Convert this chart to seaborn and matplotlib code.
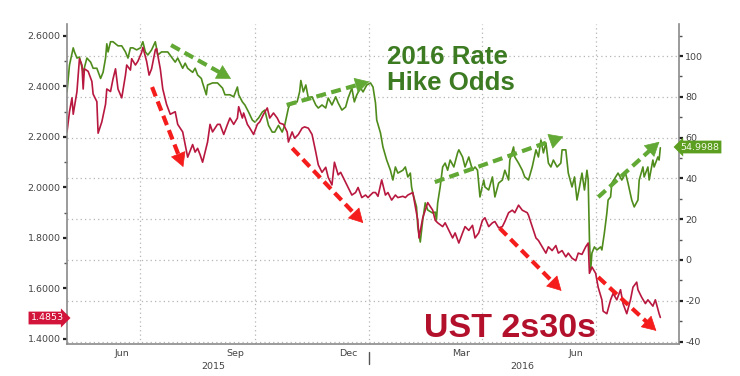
import numpy as np
import pandas as pd
import matplotlib
matplotlib.use("Agg")
import matplotlib.pyplot as plt
import matplotlib.dates as mdates
import matplotlib.transforms as mtransforms
import seaborn as sns

# ---------------- data ----------------
start_date = "2015-05-03"

# UST 2s30s spread (left axis) : days since start_date, value
ust_days = [0, 2, 4, 5, 8, 10, 12, 13, 14, 17, 20, 21, 24, 25, 28, 31, 32, 35, 37, 39,
            41, 44, 47, 48, 51, 52, 55, 57, 60, 61, 64, 66, 68, 71, 72, 75, 77, 80, 83, 87,
            89, 93, 95, 97, 101, 103, 105, 107, 109, 113, 115, 117, 121,
            123, 126, 129, 131, 134, 137, 138, 141, 142, 145, 147, 150, 153, 155, 158, 161,
            163, 166, 169, 171, 174, 177, 178, 181, 183, 186, 189, 191, 194, 197, 200, 202,
            205, 208, 210, 213, 215, 218, 220, 224, 226, 229, 232, 234, 237, 240, 242, 246,
            248, 250, 253, 256, 258, 261, 264, 266, 270, 272, 274, 278, 280, 282, 283, 286,
            288, 290, 294, 296, 298, 302, 304, 307, 310, 312, 315, 318, 320, 323, 326, 328,
            331, 334, 336, 339, 342, 344, 347, 350, 352, 355, 358, 360, 363, 366, 370,
            371, 374, 377, 379, 382, 385, 387, 390, 393, 395, 398, 401, 403, 406, 409, 411,
            414, 417, 419, 420, 422, 425, 427, 430, 431, 434, 437, 439, 442, 445, 447, 450,
            453, 455, 458, 459, 462, 465, 467, 471, 473, 476, 477]
ust_values = [2.22, 2.30, 2.355, 2.29, 2.38, 2.51, 2.485, 2.39, 2.47, 2.46, 2.42, 2.37, 2.34,
              2.215, 2.26, 2.33, 2.39, 2.38, 2.43, 2.47, 2.39, 2.355, 2.445, 2.485, 2.465,
              2.51, 2.485, 2.50, 2.535, 2.555, 2.50, 2.445, 2.47, 2.545, 2.55, 2.47, 2.39,
              2.33, 2.29, 2.30, 2.25, 2.22, 2.17, 2.12, 2.17, 2.14, 2.155, 2.13, 2.10, 2.18,
              2.25, 2.22, 2.25,
              2.25, 2.21, 2.25, 2.275, 2.25, 2.275, 2.32, 2.275, 2.295, 2.25, 2.235, 2.21,
              2.25, 2.26, 2.29, 2.315, 2.275, 2.295, 2.275, 2.255, 2.25, 2.22, 2.18, 2.22,
              2.195, 2.21, 2.235, 2.24, 2.235, 2.21, 2.14, 2.09, 2.06, 2.08, 2.04, 2.01, 2.10,
              2.05, 2.06, 2.02, 2.00, 1.97, 1.98, 2.00, 1.96, 1.97, 1.96, 1.98,
              1.98, 1.965, 2.03, 1.97, 1.98, 1.95, 1.97, 1.96, 1.965, 1.96, 1.97, 1.98, 1.925,
              1.87, 1.80, 1.88, 1.91, 1.94, 1.91, 1.87, 1.86, 1.845, 1.86, 1.83, 1.80, 1.82,
              1.78, 1.82, 1.845, 1.83, 1.85, 1.80, 1.82, 1.87, 1.88, 1.845, 1.86, 1.865, 1.84,
              1.845, 1.865, 1.90, 1.91, 1.90, 1.93, 1.91, 1.90,
              1.89, 1.845, 1.80, 1.79, 1.765, 1.74, 1.765, 1.75, 1.77, 1.74, 1.75, 1.725,
              1.74, 1.72, 1.71, 1.74, 1.735, 1.765, 1.78, 1.66, 1.685, 1.66, 1.605, 1.555,
              1.51, 1.50, 1.555, 1.58, 1.555, 1.595, 1.54, 1.50, 1.555, 1.605, 1.625, 1.595,
              1.565, 1.54, 1.555, 1.53, 1.555, 1.50, 1.4853]

# 2016 rate hike odds (right axis)
odds_days = [0, 2, 5, 6, 8, 10, 13, 16, 19, 21, 24, 27, 29, 31, 32, 33, 35, 37, 41, 44,
             47, 49, 51, 53, 56, 59, 61, 63, 65, 68, 71, 73, 76, 79, 81, 84, 87, 89, 93, 95,
             97, 101, 103, 105, 108, 109, 112, 113, 117, 121,
             125, 127, 131, 134, 137, 138, 141, 143, 146, 149, 151, 154, 157, 159, 162, 165,
             167, 170, 173, 175, 178, 179, 182, 185, 187, 188, 190, 192, 194, 197, 200, 202,
             205, 208, 210, 213, 216, 218, 221, 224, 226, 229, 231, 233, 236, 238, 241, 244,
             246, 248, 249, 252, 254, 257, 260, 262, 264, 266, 270, 272, 274, 276, 277, 278,
             281, 282, 284, 286, 288, 290, 294, 296, 297, 298, 300, 302, 304, 306, 308, 311,
             314, 315, 318, 320, 323, 326, 328, 330, 332, 335, 336, 339, 342, 344, 347, 350,
             352, 355, 356, 359, 360, 363, 366,
             368, 371, 374, 377, 379, 381, 383, 385, 387, 389, 391, 394, 397, 398, 401, 403,
             406, 408, 410, 412, 414, 416, 418, 419, 420, 421, 422, 424, 426, 429, 430, 432,
             434, 435, 437, 438, 441, 443, 446, 449, 451, 454, 456, 459, 460, 463, 464, 467,
             468, 471, 472, 475, 476, 477]
odds_values = [82.4, 95.6, 104, 102, 99, 99.5, 92, 99, 97, 94, 94, 89, 92, 99, 106, 102, 107,
               107, 105, 105, 102, 99, 104, 104, 103, 104, 107, 102, 100.5, 103, 107, 100.5,
               102, 102, 102, 99.5, 97, 99, 94, 96.5, 94, 92, 94, 90.7, 89, 86.8, 81, 85.8,
               86.8, 86.8,
               84.3, 81, 81, 80, 84.8, 81, 77.5, 76, 72.5, 68.6, 67.6, 69.6, 72.5, 73.5, 66,
               62.7, 62.7, 66, 62.7, 66, 74.5, 76, 77.5, 77.5, 82.4, 88, 82.4, 85.8, 79.4, 80,
               76, 74.5, 76, 74.5, 79.4, 76, 80, 77, 73.5, 75, 79.4, 84.3, 77.5, 81, 84.3,
               82.4, 85.8, 86.8,
               84.8, 77, 68.6, 62.3, 55.4, 49, 44, 39.2, 45.6, 42.6, 44, 45.6, 40.7, 42.6,
               35.8, 32.8, 26, 16.2, 8.8, 19.6, 28, 24.5, 23, 23.5, 19.6, 28, 35.8, 45.6, 47.5,
               44, 49, 45.6, 52.5, 54, 50.5, 45.6, 50.5, 44, 45.6, 44, 30.9, 39.2, 35.8, 34.3,
               40.7, 30.9, 37.7, 39.2, 44, 39.2, 49, 55.4, 50.5, 47.5, 44,
               40.7, 39.2, 45.6, 54, 50.5, 58.8, 52.5, 57.4, 47.5, 45.6, 49, 45.6, 47.5, 54,
               54, 42.6, 35.8, 40.7, 29.4, 35.8, 42.6, 34.3, 44, 39.2, 9.8, -4.9, 3.4, 6.4,
               4.9, 6.4, 4.9, 13.2, 23, 29.4, 30.9, 37.7, 40.7, 42.6, 39.2, 42.6, 37.7, 29.4,
               26, 29.4, 39.2, 45.6, 40.7, 45.6, 39.2, 49, 45.6, 50.5, 49, 54.9988]

left_ticks = [1.4, 1.6, 1.8, 2.0, 2.2, 2.4, 2.6]
right_ticks = [-40, -20, 0, 20, 40, 60, 80, 100]
month_labels = ["Jun", "Sep", "Dec", "Mar", "Jun"]
month_label_dates = ["2015-06-16", "2015-09-15", "2015-12-15", "2016-03-15", "2016-06-15"]
quarter_dates = ["2015-07-01", "2015-10-01", "2016-01-01", "2016-04-01", "2016-07-01"]
year_labels = ["2015", "2016"]
year_label_dates = ["2015-08-29", "2016-05-03"]
year_boundary = "2016-01-01"
x_range = ["2015-05-03", "2016-09-06"]

t0 = pd.Timestamp(start_date)
ust = pd.DataFrame({"date": t0 + pd.to_timedelta(ust_days, unit="D"), "value": ust_values})
odds = pd.DataFrame({"date": t0 + pd.to_timedelta(odds_days, unit="D"), "value": odds_values})

# ---------------- styling ----------------
sns.set_style("white")
plt.rcParams["font.family"] = ["DejaVu Sans"]

RED_LINE = "#b8183f"
GREEN_LINE = "#4f8c1c"
RED_TEXT = "#b3102c"
GREEN_TEXT = "#3c7b22"
RED_ARROW = "#f51c1c"
GREEN_ARROW = "#62a834"
TICK_COL = "#444444"
GRID_COL = "#b5b5b5"

AX_W, AX_H = 612, 320
fig = plt.figure(figsize=(7.4, 3.76), dpi=100)
ax = fig.add_axes([67 / 740, 32 / 376, AX_W / 740, AX_H / 376])
ax2 = ax.twinx()

sns.lineplot(data=ust, x="date", y="value", ax=ax, color=RED_LINE, lw=1.2,
             estimator=None, sort=False, legend=False)
sns.lineplot(data=odds, x="date", y="value", ax=ax2, color=GREEN_LINE, lw=1.2,
             estimator=None, sort=False, legend=False)

ax.set_zorder(ax2.get_zorder() + 1)
ax.patch.set_visible(False)

x0, x1 = pd.Timestamp(x_range[0]), pd.Timestamp(x_range[1])
ax.set_xlim(x0, x1)
ax.set_ylim(1.38, 2.6475)
ax2.set_ylim(-41.2, 115.7)

for a in (ax, ax2):
    a.set_xlabel("")
    a.set_ylabel("")
    for s in a.spines.values():
        s.set_visible(False)

ax.spines["left"].set_visible(True)
ax.spines["bottom"].set_visible(True)
ax2.spines["right"].set_visible(True)
for s in (ax.spines["left"], ax.spines["bottom"], ax2.spines["right"]):
    s.set_color("#8a8a8a")
    s.set_linewidth(1.2)

# left axis ticks
ax.set_yticks(left_ticks)
ax.set_yticklabels([f"{v:.4f}" for v in left_ticks])
ax.set_yticks(np.arange(1.5, 2.65, 0.2), minor=True)
ax.tick_params(axis="y", which="major", direction="out", length=3, width=1.6,
               color="#222222", labelsize=6.8, labelcolor=TICK_COL, pad=1.5)
ax.tick_params(axis="y", which="minor", direction="out", length=2, width=1.0,
               color="#555555")

# right axis ticks
ax2.set_yticks(right_ticks)
ax2.set_yticklabels([str(v) for v in right_ticks])
ax2.set_yticks(np.arange(-30, 111, 20), minor=True)
ax2.tick_params(axis="y", which="major", direction="out", length=3, width=1.6,
                color="#222222", labelsize=6.8, labelcolor=TICK_COL, pad=1.5)
ax2.tick_params(axis="y", which="minor", direction="out", length=2, width=1.0,
                color="#555555")

# horizontal grid (follows right axis)
for v in right_ticks:
    ax2.axhline(v, color=GRID_COL, lw=0.9, ls=(0, (1, 2.5)), zorder=0)
# vertical grid at quarter starts
for d in quarter_dates:
    ax.axvline(pd.Timestamp(d), color=GRID_COL, lw=0.9, ls=(0, (1, 2.5)), zorder=0)

# x ticks: month starts (minor), month labels (major, no tick)
ax.xaxis.set_minor_locator(mdates.MonthLocator())
ax.set_xticks([pd.Timestamp(d) for d in month_label_dates])
ax.set_xticklabels(month_labels)
ax.tick_params(axis="x", which="major", length=0, labelsize=6.8, labelcolor=TICK_COL, pad=3.5)
ax.tick_params(axis="x", which="minor", direction="inout", length=4, width=1.0, color="#555555")
ax2.tick_params(axis="x", which="both", length=0)

# year labels and year boundary tick
trans = mtransforms.blended_transform_factory(ax.transData, fig.transFigure)
for lab, d in zip(year_labels, year_label_dates):
    ax.text(pd.Timestamp(d), 1 - 362 / 376, lab, transform=trans, ha="center", va="top",
            fontsize=6.8, color=TICK_COL)
ax.plot([pd.Timestamp(year_boundary)] * 2, [1 - 352 / 376, 1 - 364 / 376], transform=trans,
        color="#555555", lw=1.0, clip_on=False)

# annotation texts
fig.text(387 / 740, 1 - 45 / 376, "2016 Rate\nHike Odds", ha="left", va="top",
         fontsize=18.6, fontweight="bold", color=GREEN_TEXT,
         family=["Liberation Sans", "DejaVu Sans"], linespacing=1.12, zorder=10)
fig.text(424 / 740, 1 - 337 / 376, "UST 2s30s", ha="left", va="baseline",
         fontsize=24.5, fontweight="bold", color=RED_TEXT,
         family=["Liberation Sans", "DejaVu Sans"], zorder=10)

# dashed trend arrows (axes fraction): dashed shaft + solid head
red_arrows = [((0.139, 0.803), (0.190, 0.553)),
              ((0.368, 0.612), (0.484, 0.378)),
              ((0.707, 0.362), (0.808, 0.166)),
              ((0.868, 0.209), (0.963, 0.041))]
green_arrows = [((0.170, 0.934), (0.268, 0.829)),
                ((0.359, 0.747), (0.494, 0.820)),
                ((0.601, 0.506), (0.811, 0.648)),
                ((0.868, 0.459), (0.968, 0.632))]
HEAD_PX = 13.0
for arrows, col in ((red_arrows, RED_ARROW), (green_arrows, GREEN_ARROW)):
    for (s, e) in arrows:
        dx = (e[0] - s[0]) * AX_W
        dy = (e[1] - s[1]) * AX_H
        L = np.hypot(dx, dy)
        base = (e[0] - dx / L * HEAD_PX / AX_W, e[1] - dy / L * HEAD_PX / AX_H)
        ax.plot([s[0], base[0]], [s[1], base[1]], transform=ax.transAxes, color=col,
                lw=3.0, ls=(0, (2.4, 1.3)), solid_capstyle="butt", dash_capstyle="butt",
                zorder=9, clip_on=False)
        ax.annotate("", xy=e, xytext=base, xycoords="axes fraction",
                    textcoords="axes fraction",
                    arrowprops=dict(arrowstyle="-|>,head_length=0.47,head_width=0.26",
                                    color=col, lw=0.5, shrinkA=0, shrinkB=0,
                                    mutation_scale=20),
                    zorder=9)

# last value tags
fig.text(47 / 740, 1 - 318 / 376, f"{ust_values[-1]:.4f}", ha="center", va="center",
         fontsize=6.8, color="white",
         bbox=dict(boxstyle="rarrow,pad=0.2", fc="#d2143a", ec="none"))
fig.text(700 / 740, 1 - 147 / 376, f"{odds_values[-1]:.4f}", ha="center", va="center",
         fontsize=6.8, color="#f2f8e8",
         bbox=dict(boxstyle="larrow,pad=0.2", fc="#5c9e1f", ec="none"))

fig.savefig("out.png", dpi=100)
